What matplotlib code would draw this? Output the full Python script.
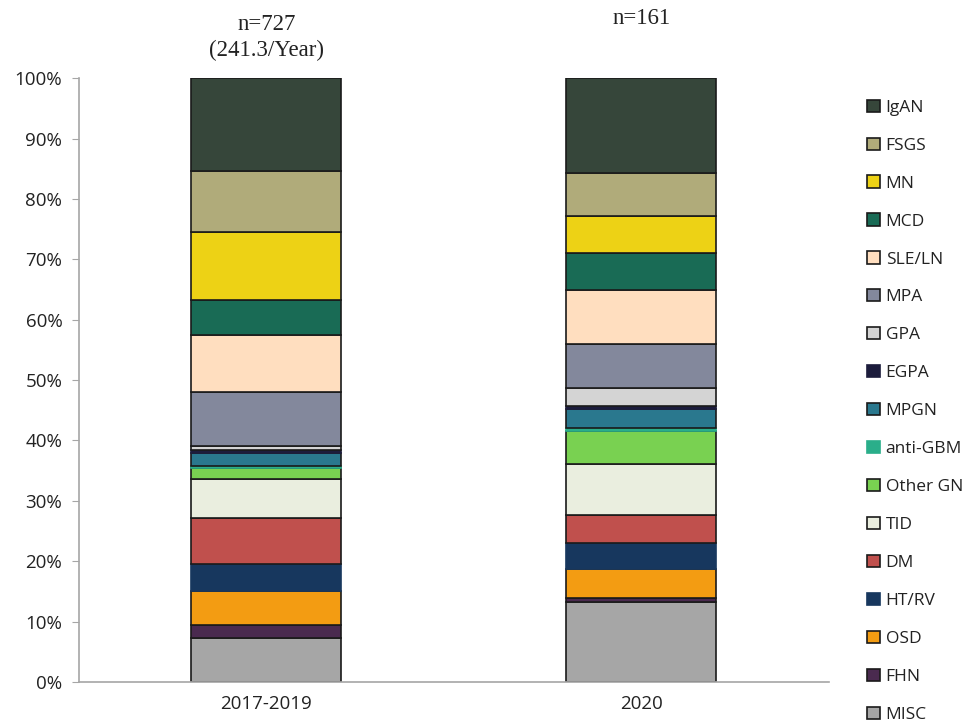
import numpy as np
import matplotlib.pyplot as plt
from matplotlib.patches import Patch

# ---------------------------
# Datos (porcentajes)
# ---------------------------
periods = ["2017-2019", "2020"]
headers = ["n=727\n(241.3/Year)", "n=161"]

# orden de abajo hacia arriba
categories = ["MISC", "FHN", "OSD", "HT/RV", "DM", "TID", "Other GN", "anti-GBM",
              "MPGN", "EGPA", "GPA", "MPA", "SLE/LN", "MCD", "MN", "FSGS", "IgAN"]

pct_2017_2019 = [7.3, 2.1, 5.7, 4.4, 7.6, 6.5, 1.8, 0.4,
                 2.1, 0.5, 0.7, 9.0, 9.3, 5.8, 11.4, 10.0, 15.4]
pct_2020 = [13.2, 0.7, 4.8, 4.3, 4.7, 8.4, 5.5, 0.5,
            3.1, 0.5, 3.0, 7.3, 9.0, 6.1, 6.1, 7.1, 15.7]

colors = ["#A6A6A6", "#4A2A4F", "#F39C12", "#17375E", "#C0504D", "#EAEEDF",
          "#79D151", "#2AAE8A", "#2A788E", "#1C1C3C", "#D4D4D4", "#83889C",
          "#FFDEBF", "#196B55", "#EDD215", "#B0AB7A", "#36463A"]
no_edge = {"HT/RV", "anti-GBM", "EGPA"}

# ---------------------------
# Grafico
# ---------------------------
fig = plt.figure(figsize=(9.69, 7.24), dpi=100)
ax = fig.add_axes([0.0815, 0.058, 0.774, 0.834])

data = np.array([pct_2017_2019, pct_2020])
x = np.arange(len(periods))
bottom = np.zeros(len(periods))
handles = []
for i, cat in enumerate(categories):
    ec = colors[i] if cat in no_edge else "#1a1a1a"
    ax.bar(x, data[:, i], 0.4, bottom=bottom, color=colors[i],
           edgecolor=ec, linewidth=1.2)
    bottom += data[:, i]
    handles.append(Patch(facecolor=colors[i], edgecolor=ec, linewidth=1.2, label=cat))

ax.set_xlim(-0.5, 1.5)
ax.set_ylim(0, 100)
ax.set_yticks(np.arange(0, 101, 10))
ax.set_yticklabels([f"{v}%" for v in range(0, 101, 10)])
ax.set_xticks(x)
ax.set_xticklabels(periods)

for sp in ["top", "right"]:
    ax.spines[sp].set_visible(False)
for sp in ["left", "bottom"]:
    ax.spines[sp].set_color("#A6A6A6")
    ax.spines[sp].set_linewidth(1.2)
ax.tick_params(axis="y", colors="#A6A6A6", length=5, labelcolor="#222222",
               labelsize=13.5, pad=7)
ax.tick_params(axis="x", length=0, labelcolor="#222222", labelsize=13.5, pad=9)
for lab in ax.get_xticklabels() + ax.get_yticklabels():
    lab.set_family("Open Sans")

# cabeceras n= sobre cada barra
head_y = [0.980, 0.989]
for xi, h, hy in zip(x, headers, head_y):
    xf = fig.transFigure.inverted().transform(ax.transData.transform((xi, 0)))[0]
    fig.text(xf, hy, h, ha="center", va="top", fontsize=16.5,
             family="Liberation Serif", color="#222222", linespacing=1.25)

leg = fig.legend(handles[::-1], categories[::-1], loc="upper left",
                 bbox_to_anchor=(0.879, 0.884), frameon=False,
                 handlelength=0.7, handleheight=0.7, handletextpad=0.35,
                 labelspacing=1.255, prop={"family": "Open Sans", "size": 12.5})
for t in leg.get_texts():
    t.set_color("#222222")

fig.savefig("out.png", dpi=100)
